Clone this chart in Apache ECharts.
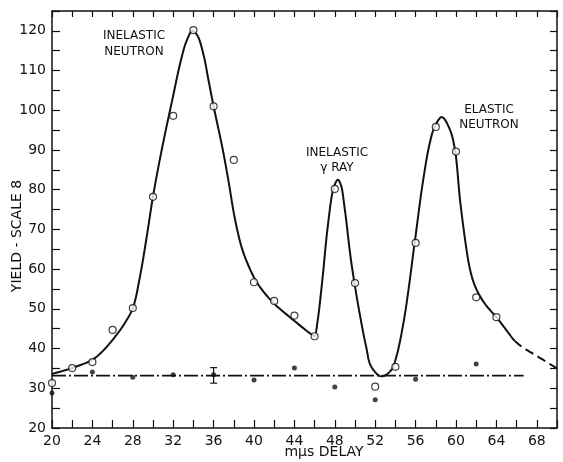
<!DOCTYPE html>
<html>
<head>
<meta charset="utf-8">
<script src="https://cdn.jsdelivr.net/npm/echarts@6/dist/echarts.min.js"></script>
<style>
  html, body { margin: 0; background: #fff; }
  #chart { width: 563px; height: 462px; }
</style>
</head>
<body>
<div id="chart"></div>
<script>
// hand-drawn fit curve
const curve = [
  [20, 33.6], [22, 35.1], [24, 37.2], [25, 39.3], [26, 42.2], [27, 45.6],
  [28, 50.2], [28.7, 58], [29.4, 68.5], [30, 78.3], [30.9, 90.5],
  [31.9, 102.5], [32.7, 111.9], [33.3, 117.3], [33.9, 120], [34.4, 118.8],
  [35.0, 114], [35.5, 107.5], [36.0, 101], [36.9, 90.2], [37.5, 81.8],
  [38.1, 72.8], [38.8, 65.3], [39.5, 60.6], [40.3, 56.6], [41.8, 51.8],
  [43.7, 47.6], [45.8, 43.4], [46.0, 43.2], [46.3, 47], [46.8, 58.1],
  [47.3, 70.7], [47.9, 80.6], [48.3, 82.5], [48.6, 81.2], [49.0, 74.9],
  [49.6, 62.3], [50.4, 49.7], [51.1, 40.5], [51.6, 35.5], [52.6, 33],
  [53.6, 34.6], [54.1, 38], [54.9, 48], [55.9, 66.5], [56.7, 81.6],
  [57.4, 91.7], [57.9, 95.9], [58.6, 98.3], [59.4, 95.1], [59.9, 90.0],
  [60.4, 77.4], [60.9, 67.4], [61.3, 61], [61.7, 57], [62.2, 54],
  [62.8, 51.5], [63.4, 49.6], [64.0, 47.9], [65.0, 44.6], [65.8, 42.0]
];
const curveTail = [[65.8, 42.0], [66.6, 40.3], [67.5, 38.9], [68.6, 37.2], [70, 35]];

const openX = [20, 22, 24, 26, 28, 30, 32, 34, 36, 38, 40, 42, 44, 46, 48, 50, 52, 54, 56, 58, 60, 62, 64];
const openY = [31.3, 35.1, 36.6, 44.7, 50.2, 78.2, 98.6, 120.2, 101, 87.5, 56.7, 52, 48.3, 43.1, 80.2, 56.5, 30.4, 35.4, 66.6, 95.8, 89.6, 52.9, 47.9];

const dotX = [20, 24, 28, 32, 36, 40, 44, 48, 52, 56, 62];
const dotY = [28.8, 34.1, 32.8, 33.4, 33.4, 32.1, 35.1, 30.3, 27.1, 32.3, 36.1];

const baseline = [[20, 33.2], [66.7, 33.2]];
const errBar = [[36, 31.3, 35.2]];

const xLabels = [20, 24, 28, 32, 36, 40, 44, 48, 52, 56, 60, 64, 68];
const yLabels = [20, 30, 40, 50, 60, 70, 80, 90, 100, 110, 120];

const ink = '#111';
const font = 'DejaVu Sans';

// centripetal catmull-rom through pixel points
function spline(pts, steps) {
  const P = [[2 * pts[0][0] - pts[1][0], 2 * pts[0][1] - pts[1][1]]].concat(pts);
  const n = pts.length;
  P.push([2 * pts[n - 1][0] - pts[n - 2][0], 2 * pts[n - 1][1] - pts[n - 2][1]]);
  const segs = [];
  const d = (a, b) => Math.pow(Math.hypot(b[0] - a[0], b[1] - a[1]), 0.5) || 1e-4;
  const lerp = (a, b, ta, tb, t) => [
    ((tb - t) * a[0] + (t - ta) * b[0]) / (tb - ta),
    ((tb - t) * a[1] + (t - ta) * b[1]) / (tb - ta)
  ];
  for (let i = 1; i < P.length - 2; i++) {
    const p0 = P[i - 1], p1 = P[i], p2 = P[i + 1], p3 = P[i + 2];
    const t0 = 0, t1 = t0 + d(p0, p1), t2 = t1 + d(p1, p2), t3 = t2 + d(p2, p3);
    const seg = [];
    for (let k = 0; k <= steps; k++) {
      const t = t1 + (t2 - t1) * k / steps;
      const a1 = lerp(p0, p1, t0, t1, t), a2 = lerp(p1, p2, t1, t2, t), a3 = lerp(p2, p3, t2, t3, t);
      const b1 = lerp(a1, a2, t0, t2, t), b2 = lerp(a2, a3, t1, t3, t);
      seg.push(lerp(b1, b2, t1, t2, t));
    }
    segs.push(seg);
  }
  return segs;
}

const fitPoints = curve.concat(curveTail.slice(1));
const solidSegs = curve.length - 1;

const chart = echarts.init(document.getElementById('chart'));

const xBase = {
  type: 'value', min: 20, max: 70, interval: 2,
  axisLine: { show: true, onZero: false, lineStyle: { color: ink, width: 1.5 } },
  axisTick: { show: true, inside: true, length: 8, lineStyle: { color: ink, width: 1.2 } },
  splitLine: { show: false }
};
const yBase = {
  type: 'value', min: 20, max: 125, interval: 5,
  axisLine: { show: true, onZero: false, lineStyle: { color: ink, width: 1.5 } },
  axisTick: { show: true, inside: true, length: 8, lineStyle: { color: ink, width: 1.2 } },
  splitLine: { show: false }
};

chart.setOption({
  animation: false,
  grid: { left: 52, right: 6, top: 11, bottom: 34 },
  xAxis: [
    Object.assign({}, xBase, {
      position: 'bottom',
      axisLabel: {
        margin: 6, color: ink, fontFamily: font, fontSize: 14,
        formatter: v => xLabels.includes(v) ? String(v) : ''
      }
    }),
    Object.assign({}, xBase, {
      position: 'top',
      axisTick: { show: true, inside: true, length: 6, lineStyle: { color: ink, width: 1.2 } },
      axisLabel: { show: false }
    })
  ],
  yAxis: [
    Object.assign({}, yBase, {
      position: 'left',
      axisLabel: {
        margin: 6, color: ink, fontFamily: font, fontSize: 14,
        formatter: v => yLabels.includes(v) ? String(v) : ''
      }
    }),
    Object.assign({}, yBase, {
      position: 'right',
      axisTick: { show: true, inside: true, length: 7, lineStyle: { color: ink, width: 1.2 } },
      axisLabel: { show: false }
    })
  ],
  graphic: [
    { type: 'text', x: 134, y: 28, style: { text: 'INELASTIC\nNEUTRON', fill: ink, font: '12px ' + font, align: 'center', verticalAlign: 'top', lineHeight: 16 } },
    { type: 'text', x: 337, y: 145, style: { text: 'INELASTIC\nγ RAY', fill: ink, font: '12px ' + font, align: 'center', verticalAlign: 'top', lineHeight: 15 } },
    { type: 'text', x: 489, y: 102, style: { text: 'ELASTIC\nNEUTRON', fill: ink, font: '12px ' + font, align: 'center', verticalAlign: 'top', lineHeight: 15 } },
    { type: 'text', x: 324, y: 452, style: { text: 'mμs DELAY', fill: ink, font: '14px ' + font, align: 'center', verticalAlign: 'middle' } },
    { type: 'text', x: 17, y: 236, rotation: Math.PI / 2, style: { text: 'YIELD - SCALE 8', fill: ink, font: '14px ' + font, align: 'center', verticalAlign: 'middle' } }
  ],
  series: [
    {
      type: 'custom', data: fitPoints, encode: { x: 0, y: 1 }, z: 2, clip: true,
      renderItem: (params, api) => {
        if (params.dataIndex !== 0) return null;
        const segs = spline(fitPoints.map(p => api.coord(p)), 10);
        const solid = [], dashed = [];
        segs.forEach((s, i) => {
          const dst = i < solidSegs ? solid : dashed;
          s.forEach((p, k) => { if (k > 0 || dst.length === 0) dst.push(p); });
        });
        return {
          type: 'group',
          children: [
            { type: 'polyline', shape: { points: solid }, style: { stroke: ink, lineWidth: 2, fill: null } },
            { type: 'polyline', shape: { points: dashed }, style: { stroke: ink, lineWidth: 2, fill: null, lineDash: [9, 5] } }
          ]
        };
      }
    },
    {
      type: 'line', data: baseline, showSymbol: false,
      lineStyle: { color: ink, width: 1.6, type: [14, 3, 2, 3] }, z: 1
    },
    {
      type: 'custom', data: errBar, encode: { x: 0, y: [1, 2] }, z: 3,
      renderItem: (params, api) => {
        const lo = api.coord([api.value(0), api.value(1)]);
        const hi = api.coord([api.value(0), api.value(2)]);
        const st = { stroke: ink, lineWidth: 1.2 };
        return {
          type: 'group',
          children: [
            { type: 'line', shape: { x1: lo[0], y1: lo[1], x2: hi[0], y2: hi[1] }, style: st },
            { type: 'line', shape: { x1: lo[0] - 3.5, y1: lo[1], x2: lo[0] + 3.5, y2: lo[1] }, style: st },
            { type: 'line', shape: { x1: hi[0] - 3.5, y1: hi[1], x2: hi[0] + 3.5, y2: hi[1] }, style: st }
          ]
        };
      }
    },
    {
      type: 'scatter', data: dotX.map((x, i) => [x, dotY[i]]),
      symbol: 'circle', symbolSize: 5, itemStyle: { color: ink }, z: 4
    },
    {
      type: 'scatter', data: openX.map((x, i) => [x, openY[i]]),
      symbol: 'circle', symbolSize: 7,
      itemStyle: { color: '#fff', borderColor: ink, borderWidth: 1.2 }, z: 5
    }
  ]
});
</script>
</body>
</html>
